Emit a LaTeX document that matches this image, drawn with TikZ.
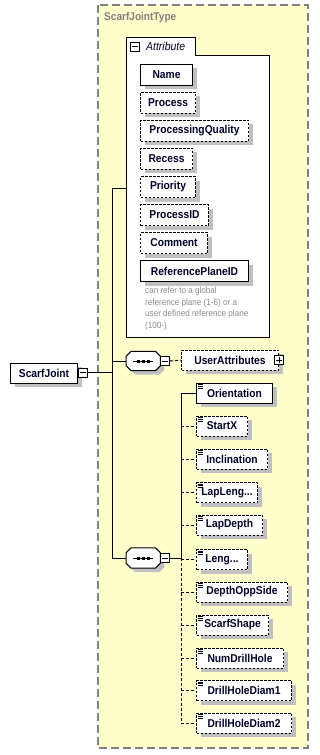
\documentclass[tikz,border=0pt]{standalone}
\usepackage{fontspec}
\setmainfont{Liberation Sans}
\newfontfamily\elf{Liberation Sans}[FakeStretch=0.9]
\usetikzlibrary{shadows}
\definecolor{yel}{RGB}{255,255,204}
\definecolor{navy}{RGB}{0,0,40}
\definecolor{shd}{RGB}{192,192,192}
\definecolor{bord}{RGB}{128,128,128}
\definecolor{notegray}{RGB}{140,140,140}
\newcommand\octa[2]{%
 \path[#2] ([xshift=5pt]#1.north west) -- ([xshift=-5pt]#1.north east) -- ([yshift=-5pt]#1.north east) -- ([yshift=5pt]#1.south east) -- ([xshift=-5pt]#1.south east) -- ([xshift=5pt]#1.south west) -- ([yshift=5pt]#1.south west) -- ([yshift=-5pt]#1.north west) -- cycle;}
\newcommand\seqinner[1]{%
 \draw[line width=1pt] ([xshift=7pt]#1.west) -- ([xshift=-7pt]#1.east);
 \foreach \d in {-5,0,5}{\fill ([xshift=\d pt]#1.center) ++(-1.5pt,-1.5pt) rectangle ++(3pt,3pt);}}
\newcommand\lines[1]{%
 \foreach \k in {0,1.7,3.4}{\draw[line width=0.7pt] ([xshift=1.5pt,yshift=-2pt-\k pt]#1.north west) -- ++(5.5pt,0);}}
\begin{document}
\begin{tikzpicture}[x=1pt,y=-1pt,
 elfont/.style={font=\elf\bfseries\fontsize{11.4}{12}\selectfont, text=navy},
 shdw/.style={drop shadow={shadow xshift=4pt,shadow yshift=-4pt,fill=shd,opacity=1}},
 elbox/.style={elfont, draw, fill=white, line width=1pt, inner xsep=2pt, inner ysep=0pt, anchor=west, shdw},
 attr/.style={elbox, minimum height=21pt},
 kid/.style={elbox, minimum height=20pt},
 opt/.style={dash pattern=on 2.5pt off 1.5pt},
 optline/.style={line width=1pt, dash pattern=on 3pt off 2pt},
 conn/.style={line width=1pt},
 mbox/.style={draw, fill=white, line width=0.8pt, minimum size=9pt, inner sep=0pt, anchor=west},
 seqbox/.style={draw=none, minimum width=34pt, minimum height=19pt, inner sep=0pt, anchor=west}
]
\useasboundingbox (0,0) rectangle (319,755);
% outer type box
\draw[fill=yel, draw=bord, line width=1.3pt, dash pattern=on 8pt off 4pt] (98,5) rectangle (308,748);
\node[anchor=west, font=\elf\bfseries\fontsize{11.2}{12}\selectfont, text=bord, inner sep=0pt] (typelbl) at (104,18) {ScarfJointType};
% attribute box
\draw[fill=white, line width=1pt] (126,337) -- (126,37) -- (195,37) -- (195,55) -- (269,55) -- (269,337) -- cycle;
\node[mbox] (attrm) at (130,46.5) {};
\draw[line width=0.8pt] ([xshift=2pt]attrm.west) -- ([xshift=-2pt]attrm.east);
\node[anchor=west, inner sep=0pt, font=\elf\itshape\fontsize{11.6}{12}\selectfont, text=navy] (attrlbl) at (146,46.5) {Attribute};
\coordinate (attrw) at (126,188);
% attributes
\node[attr, minimum width=52pt] (a1) at (140,74.5) {Name};
\node[attr, opt, minimum width=55pt] (a2) at (140,102.5) {Process};
\node[attr, opt, minimum width=108pt] (a3) at (140,130.5) {ProcessingQuality};
\node[attr, opt, minimum width=52pt] (a4) at (140,158.5) {Recess};
\node[attr, opt, minimum width=55pt] (a5) at (140,187) {Priority};
\node[attr, opt, minimum width=68pt] (a6) at (140,215) {ProcessID};
\node[attr, opt, minimum width=67pt] (a7) at (140,243) {Comment};
\node[attr, minimum width=108pt] (a8) at (140,271) {ReferencePlaneID};
\node[anchor=north west, align=left, inner sep=0pt, font=\elf\fontsize{9}{11.5}\selectfont, text=notegray] (note) at (145,287) {can refer to a global\\reference plane (1-6) or a\\user defined reference plane\\(100-)};
% root element
\node[elbox, minimum height=20pt, minimum width=67pt] (sj) at (10,373) {ScarfJoint};
\node[mbox] (sjm) at (78,372.5) {};
\draw[line width=0.8pt] ([xshift=2pt]sjm.west) -- ([xshift=-2pt]sjm.east);
% bus 1
\coordinate (b1top) at (112,188);
\coordinate (b1bot) at (112,558);
\draw[conn] (sjm.east) -- (sjm.east -| b1top);
\draw[conn] (b1top) -- (b1bot);
\draw[conn] (b1top) -- (attrw);
% sequence 1
\node[seqbox] (s1) at (126,361) {};
\octa{s1}{fill=shd, transform canvas={shift={(4pt,-4pt)}}}
\octa{s1}{fill=white, draw, line width=1pt}
\seqinner{s1}
\node[mbox] (s1m) at (s1.east) {};
\draw[line width=0.8pt] ([xshift=2pt]s1m.west) -- ([xshift=-2pt]s1m.east);
\draw[conn] (b1top |- s1.west) -- (s1.west);
\node[elbox, opt, minimum height=20pt, minimum width=97pt] (ua) at (181,360) {UserAttributes\hspace{6pt}};
\node[mbox, anchor=center] (uap) at (ua.east) {};
\draw[line width=0.8pt] ([xshift=2pt]uap.west) -- ([xshift=-2pt]uap.east) ([yshift=-2pt]uap.north) -- ([yshift=2pt]uap.south);
\draw[optline] (s1m.east) -- (ua.west);
% sequence 2
\node[seqbox, minimum height=20pt] (s2) at (126,558) {};
\octa{s2}{fill=shd, transform canvas={shift={(4pt,-4pt)}}}
\octa{s2}{fill=white, draw, line width=1pt}
\seqinner{s2}
\node[mbox] (s2m) at (s2.east) {};
\draw[line width=0.8pt] ([xshift=2pt]s2m.west) -- ([xshift=-2pt]s2m.east);
\draw[conn] (b1bot) -- (s2.west);
% children
\node[kid, minimum width=76pt] (c0) at (196,393) {Orientation};
\node[kid, opt, minimum width=51pt] (c1) at (196,426) {StartX};
\node[kid, opt, minimum width=71pt] (c2) at (196,459) {Inclination};
\node[kid, opt, minimum width=61pt] (c3) at (196,492.5) {LapLeng...};
\node[kid, opt, minimum width=66pt] (c4) at (196,525) {LapDepth};
\node[kid, opt, minimum width=51pt] (c5) at (196,559.5) {Leng...};
\node[kid, opt, minimum width=91pt] (c6) at (196,592) {DepthOppSide};
\node[kid, opt, minimum width=72pt] (c7) at (196,625) {ScarfShape};
\node[kid, opt, minimum width=87pt] (c8) at (196,658) {NumDrillHole};
\node[kid, opt, minimum width=95pt] (c9) at (196,690.5) {DrillHoleDiam1};
\node[kid, opt, minimum width=95pt] (c10) at (196,723) {DrillHoleDiam2};
\foreach \i in {0,...,10}{\lines{c\i}}
\coordinate (b2top) at (181,393);
\coordinate (b2j) at (181,558);
\coordinate (b2bot) at (181,723);
\draw[conn] (s2m.east) -- (b2j);
\draw[conn] (b2top) -- (b2j);
\draw[optline] (b2j) -- (b2bot);
\draw[conn] (b2top) -- (c0.west);
\foreach \i in {1,...,10}{\draw[optline] (c\i.west -| b2top) -- (c\i.west);}
\end{tikzpicture}
\end{document}
